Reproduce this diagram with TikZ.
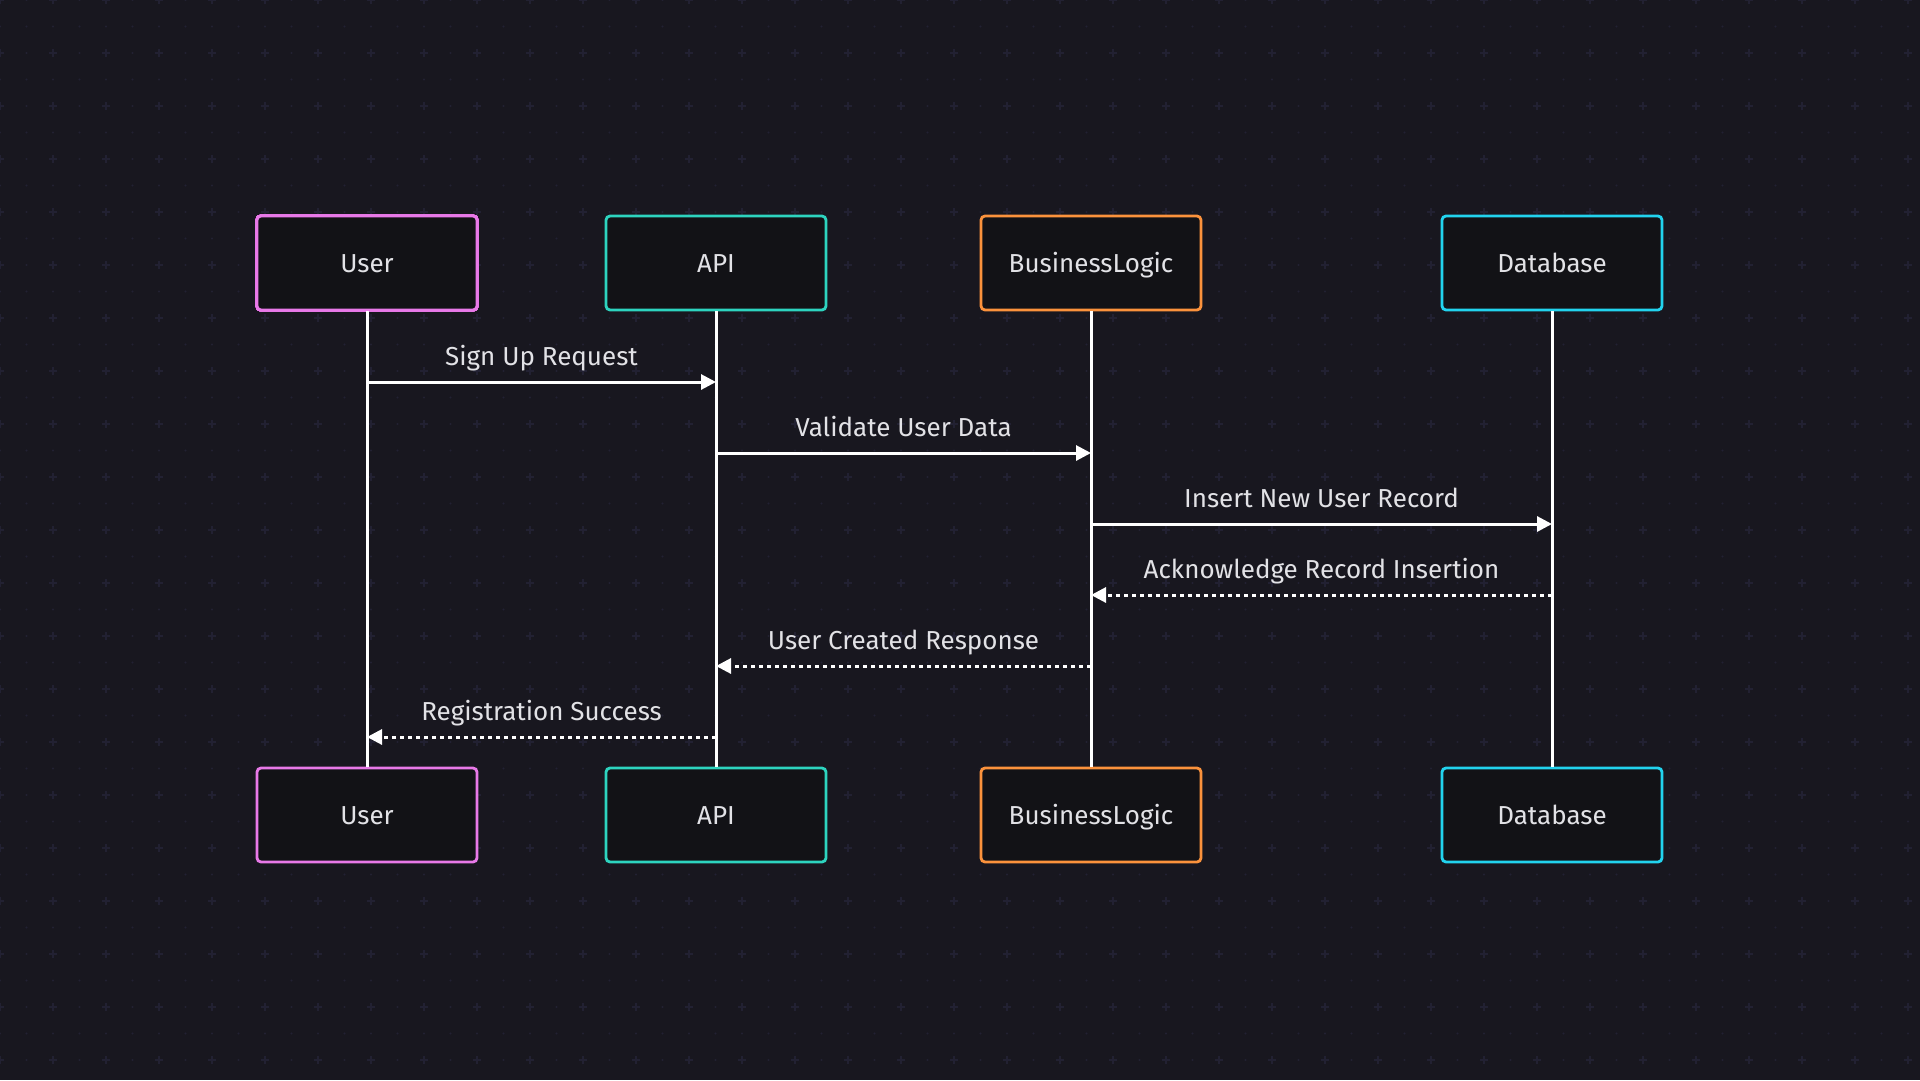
\documentclass[tikz,border=0pt]{standalone}
\usepackage{fontspec}
\setmainfont{Fira Sans}
\usetikzlibrary{arrows.meta}
\definecolor{bgcol}{HTML}{18171F}
\definecolor{gridcol}{HTML}{222132}
\definecolor{boxfill}{HTML}{121216}
\definecolor{txtcol}{HTML}{E2E2E6}
\definecolor{usercol}{HTML}{E879E8}
\definecolor{apicol}{HTML}{2DD4BF}
\definecolor{logiccol}{HTML}{FB923C}
\definecolor{dbcol}{HTML}{22D3EE}
\def\plus(#1,#2)% Syntax: (x,y) of a grid cross
{ \draw[gridcol,line width=1.3pt] (#1-4,#2) -- (#1+4,#2) (#1,#2-4) -- (#1,#2+4); }
\tikzset{
	actor/.style={draw=#1,line width=2.8pt,fill=boxfill,rounded corners=4pt,minimum width=220pt,minimum height=94pt,text height=21pt,text depth=3pt,text=txtcol,font=\fontsize{26}{30}\selectfont},
	lifeline/.style={white,line width=3pt},
	msg/.style={white,line width=3pt,-{Triangle[length=15pt,width=15pt]}},
	reply/.style={msg,dash pattern=on 4.5pt off 3.5pt},
	msglabel/.style={midway,anchor=base,yshift=17pt,text=txtcol,font=\fontsize{26}{30}\selectfont}
}
\begin{document}
\begin{tikzpicture}[x=1pt,y=-1pt]
	\fill[bgcol] (0,0) rectangle (1920,1080);
	\useasboundingbox (0,0) rectangle (1920,1080);
	% background dots and crosses
	\foreach \i in {0,...,72} \foreach \j in {0,...,40} \fill[gridcol] (26.5*\i,26.5*\j) circle (1.2pt);
	\foreach \i in {0,...,36} \foreach \j in {0,...,20} \plus(53*\i,53*\j)
	%
	\node[actor=usercol]  (userT)  at (367,263) {User};		\node[actor=usercol]  (userB)  at (367,815) {User};
	\node[actor=apicol]   (apiT)   at (716,263) {API};		\node[actor=apicol]   (apiB)   at (716,815) {API};
	\node[actor=logiccol] (logicT) at (1091,263) {BusinessLogic};	\node[actor=logiccol] (logicB) at (1091,815) {BusinessLogic};
	\node[actor=dbcol]    (dbT)    at (1552,263) {Database};	\node[actor=dbcol]    (dbB)    at (1552,815) {Database};
	%
	\foreach \n in {user,api,logic,db} \draw[lifeline] (\n T) -- (\n B);
	%
	\draw[msg]   (userT |- 0,382) -- node[msglabel] {Sign Up Request} (apiT |- 0,382);
	\draw[msg]   (apiT |- 0,453) -- node[msglabel] {Validate User Data} (logicT |- 0,453);
	\draw[msg]   (logicT |- 0,524) -- node[msglabel] {Insert New User Record} (dbT |- 0,524);
	\draw[reply] (dbT |- 0,595) -- node[msglabel] {Acknowledge Record Insertion} (logicT |- 0,595);
	\draw[reply] (logicT |- 0,666) -- node[msglabel] {User Created Response} (apiT |- 0,666);
	\draw[reply] (apiT |- 0,737) -- node[msglabel] {Registration Success} (userT |- 0,737);
\end{tikzpicture}
\end{document}
